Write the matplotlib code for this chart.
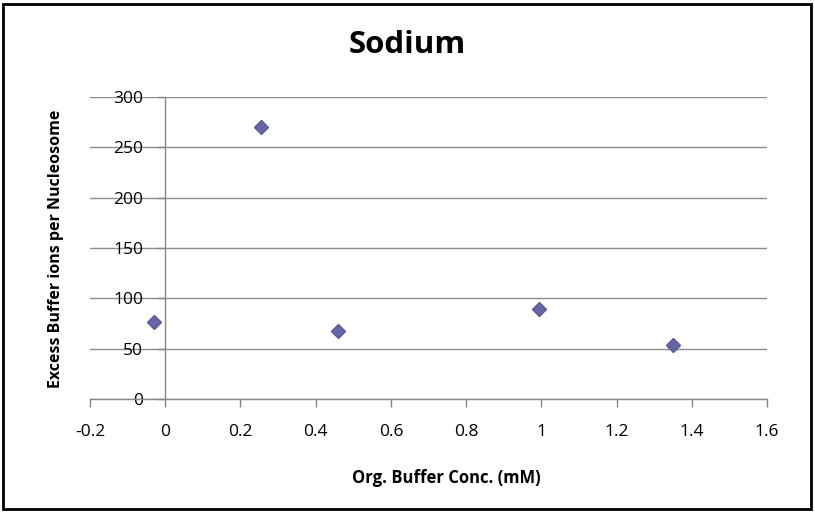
import matplotlib.pyplot as plt
from matplotlib.patches import Rectangle

# data
conc = [-0.03, 0.255, 0.46, 0.995, 1.35]
excess = [76, 270, 68, 89, 54]
xticks = [-0.2, 0, 0.2, 0.4, 0.6, 0.8, 1, 1.2, 1.4, 1.6]
xticklabels = ['-0.2', '0', '0.2', '0.4', '0.6', '0.8', '1', '1.2', '1.4', '1.6']
yticks = [0, 50, 100, 150, 200, 250, 300]

plt.rcParams['font.family'] = ['Open Sans', 'DejaVu Sans']

fig = plt.figure(figsize=(8.15, 5.12), dpi=100)
W, H = 815, 512
ax = fig.add_axes([90 / W, (H - 399) / H, (767 - 90) / W, (399 - 97) / H])

axcol = '#868686'
ax.set_xlim(-0.2, 1.6)
ax.set_ylim(0, 300)
for s in ['top', 'right']:
    ax.spines[s].set_visible(False)
ax.spines['left'].set_position(('data', 0))
ax.spines['bottom'].set_position(('data', 0))
ax.spines['left'].set_color(axcol)
ax.spines['bottom'].set_color(axcol)
ax.spines['left'].set_linewidth(1)
ax.spines['bottom'].set_linewidth(1)

ax.set_xticks(xticks)
ax.set_xticklabels(xticklabels)
ax.set_yticks(yticks)
ax.tick_params(axis='both', direction='out', length=6, color=axcol, labelsize=12.5, width=1)
ax.tick_params(axis='x', pad=12)
ax.tick_params(axis='y', pad=10)
ax.yaxis.grid(True, color='#8c8c8c', linewidth=1)
ax.set_axisbelow(True)

ax.plot(conc, excess, linestyle='none', marker='D', markersize=7.5,
        color='#6666a6', markeredgecolor='#5c5c9a', zorder=3, clip_on=False)

fig.text(407 / W, 1 - 45 / H, 'Sodium', ha='center', va='center', fontsize=22.5, fontweight='bold')
fig.text(446 / W, 1 - 478 / H, 'Org. Buffer Conc. (mM)', ha='center', va='center',
         fontsize=12, fontweight='bold')
fig.text(56 / W, 1 - 249 / H, 'Excess Buffer ions per Nucleosome', ha='center', va='center',
         rotation=90, fontsize=11.5, fontweight='bold')

fig.patches.append(Rectangle((3 / W, 3 / H), 808 / W, 505 / H, transform=fig.transFigure,
                             fill=False, edgecolor='black', linewidth=2))

fig.savefig('out.png', dpi=100)
